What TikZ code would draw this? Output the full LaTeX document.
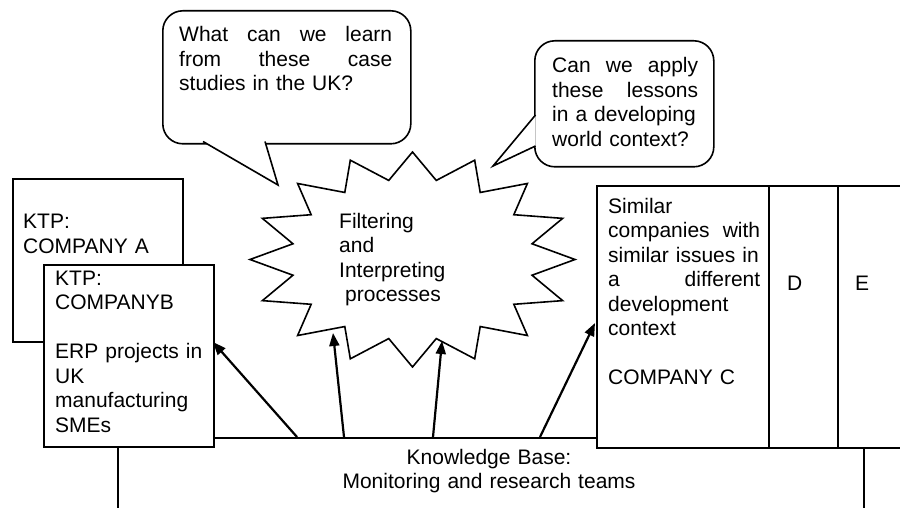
\documentclass[tikz,border=0pt]{standalone}
\usepackage{fontspec}
\setmainfont{Liberation Sans}
\usetikzlibrary{arrows.meta}
\hyphenpenalty=10000
\exhyphenpenalty=10000

\begin{document}
\begin{tikzpicture}[x=1pt, y=-1pt,
        box/.style={draw, fill=white, line width=1.6pt, inner sep=0pt, anchor=north west},
        txt/.style={font=\fontsize{21}{24.5}\selectfont, inner sep=0pt, anchor=base west, align=left},
        arr/.style={-{Triangle[length=13pt, width=10pt]}, line width=2.2pt}]
        \useasboundingbox (0,0) rectangle (900,508);
        \clip (0,0) rectangle (900,508);
        % knowledge base, running below the page
        \node[box, minimum width=746, minimum height=100] (kb) at (117,437) {};
        % UK case studies
        \node[box, minimum width=170, minimum height=163] (ktpa) at (12,178) {};
        \node[box, minimum width=170, minimum height=182] (ktpb) at (43,264) {};
        % other context
        \node[box, minimum width=172, minimum height=262] (compc) at (596,185) {};
        \node[box, minimum width=69, minimum height=262] (compd) at (768,185) {};
        \node[box, minimum width=73, minimum height=262] (compe) at (837,185) {};
        % starburst
        \begin{scope}[shift={(412.5,259.5)}, xscale=162.5, yscale=107.5]
            \draw[fill=white, line width=1.6pt] (0:1)
                \foreach \k in {0,...,14} { -- ({11.25+22.5*\k}:0.75) -- ({22.5+22.5*\k}:1) }
                -- (348.75:0.75) -- cycle;
        \end{scope}
        % speech bubbles
        \node[box, rounded corners=20, minimum width=248, minimum height=133] (qukbox) at (162,10) {};
        \draw[fill=white, line width=1.6pt] (203,141.5) -- (278,185) -- (265,141.5);
        \node[box, rounded corners=20, minimum width=179, minimum height=126] (qdevbox) at (534,40) {};
        \draw[fill=white, line width=1.6pt] (535.5,115) -- (493,166) -- (535.5,146);
        % texts
        \node[txt, text width=150] (ktpatext) at (23,229) {KTP:\\COMPANY A};
        \node[txt, text width=155] (ktpbtext) at (55,285) {KTP:\\COMPANYB\\[24.5pt]ERP projects in\\UK\\manufacturing\\SMEs};
        \node[txt, text width=152] (compctext) at (608,213) {Similar\\companies\hfill with\\similar issues in\\a\hfill different\\development\\context\\[24.5pt]COMPANY C};
        \node[txt] (compdtext) at (787,290) {D};
        \node[txt] (competext) at (855,290) {E};
        \node[txt, text width=130] (filt) at (339,228) {Filtering\\and\\Interpreting\\\hspace*{6pt}processes};
        \node[txt, text width=213] (quk) at (179,42) {What\hfill can\hfill we\hfill learn\\from\hfill these\hfill case\\studies in the UK?};
        \node[txt, text width=146] (qdev) at (552,73) {Can\hfill we\hfill apply\\these\hfill lessons\\in a developing\\world context?};
        \node[txt, anchor=base, text width=300, align=center] (kbtext) at (489,464) {Knowledge Base:\\Monitoring and research teams};
        % arrows from the knowledge base
        \coordinate (k1) at (297,437);
        \coordinate (k2) at (344,437);
        \coordinate (k3) at (433,437);
        \coordinate (k4) at (540,437);
        \coordinate (t1) at (213,342);
        \coordinate (t2) at (333,333);
        \coordinate (t3) at (442,341);
        \coordinate (t4) at (595,323);
        \draw[arr] (k1) -- (t1);
        \draw[arr] (k2) -- (t2);
        \draw[arr] (k3) -- (t3);
        \draw[arr] (k4) -- (t4);
    \end{tikzpicture}
\end{document}
